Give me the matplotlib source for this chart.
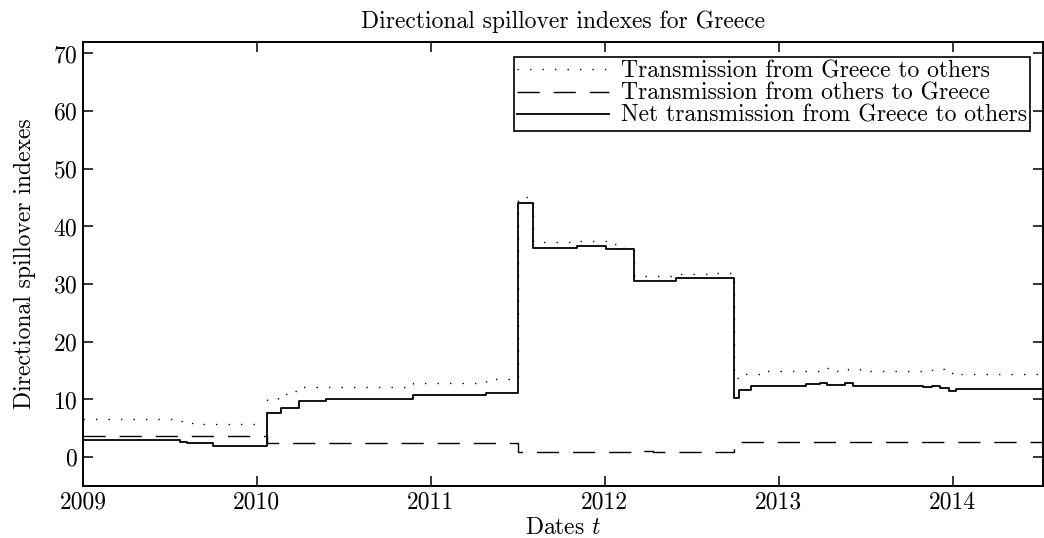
import matplotlib
matplotlib.use("Agg")
import matplotlib.pyplot as plt

# fractional-year breakpoints (step changes) and values
net_x = [2009.0, 2009.56, 2009.60, 2009.75, 2010.06, 2010.14, 2010.24, 2010.40,
         2010.78, 2010.90, 2011.32, 2011.50, 2011.59, 2011.84, 2012.01, 2012.17,
         2012.41, 2012.745, 2012.77, 2012.84, 2013.16, 2013.24, 2013.28, 2013.38,
         2013.43, 2013.83, 2013.88, 2013.93, 2013.98, 2014.02, 2014.52]
net_y = [3.0, 2.7, 2.4, 2.0, 7.7, 8.5, 9.8, 10.0,
         10.1, 10.7, 11.1, 44.1, 36.3, 36.6, 36.1, 30.5,
         31.0, 10.3, 11.6, 12.3, 12.6, 12.8, 12.5, 12.8,
         12.3, 12.1, 12.3, 12.0, 11.4, 11.8, 11.8]

to_others_x = [2009.0, 2009.56, 2009.60, 2009.63, 2010.06, 2010.12, 2010.20, 2010.26,
               2010.78, 2010.90, 2011.05, 2011.32, 2011.50, 2011.59, 2011.84, 2012.01,
               2012.10, 2012.17, 2012.41, 2012.60, 2012.745, 2012.80, 2012.90, 2013.25,
               2013.30, 2013.40, 2013.47, 2013.88, 2013.95, 2014.0, 2014.05, 2014.52]
to_others_y = [6.6, 6.2, 5.9, 5.7, 10.0, 10.9, 11.5, 12.1,
               12.2, 12.8, 12.9, 13.5, 45.2, 37.3, 37.5, 37.0,
               36.3, 31.4, 31.8, 32.0, 13.8, 14.5, 15.0, 15.4,
               15.0, 15.3, 15.0, 15.2, 14.6, 14.2, 14.5, 14.5]

from_others_x = [2009.0, 2010.06, 2011.50, 2012.20, 2012.28, 2012.745, 2014.52]
from_others_y = [3.6, 2.4, 0.9, 1.1, 0.9, 2.6, 2.6]

year_ticks = [2009, 2010, 2011, 2012, 2013, 2014]
value_ticks = [0, 10, 20, 30, 40, 50, 60, 70]


def main():
    plt.rcParams['font.family'] = 'serif'
    plt.rcParams['font.serif'] = ['cmr10', 'DejaVu Serif']
    plt.rcParams['mathtext.fontset'] = 'cm'
    plt.rcParams['axes.formatter.use_mathtext'] = True
    plt.rcParams['font.size'] = 17

    fig = plt.figure(figsize=(10.44, 5.38), dpi=100)
    ax = fig.add_axes([0.0795, 0.0967, 0.9195, 0.8253])

    ax.plot(to_others_x, to_others_y, color='black', lw=1.0, drawstyle='steps-post',
            dashes=(1, 8), label="Transmission from Greece to others")
    ax.plot(from_others_x, from_others_y, color='black', lw=1.0, drawstyle='steps-post',
            dashes=(16, 10), label="Transmission from others to Greece")
    ax.plot(net_x, net_y, color='black', lw=1.3, drawstyle='steps-post',
            label="Net transmission from Greece to others")

    ax.set_xlim(2009, 2014.52)
    ax.set_ylim(-5, 72)
    ax.set_xticks(year_ticks)
    ax.set_xticklabels([str(y) for y in year_ticks])
    ax.set_yticks(value_ticks)
    ax.tick_params(direction='in', length=7, width=1.1, top=True, right=True, pad=4)
    for s in ax.spines.values():
        s.set_linewidth(1.4)

    ax.set_title("Directional spillover indexes for Greece", fontsize=17, pad=10)
    ax.set_xlabel("Dates $t$", fontsize=17, labelpad=2)
    ax.set_ylabel("Directional spillover indexes", fontsize=17, labelpad=12)

    leg = ax.legend(loc='upper right', bbox_to_anchor=(0.987, 0.966), borderaxespad=0,
                    fancybox=False, edgecolor='black', framealpha=1, handlelength=3.9,
                    labelspacing=0.0, borderpad=0.15, handletextpad=0.5, fontsize=17)
    leg.get_frame().set_linewidth(1.2)

    fig.savefig("out.png", dpi=100)


if __name__ == '__main__':
    main()
